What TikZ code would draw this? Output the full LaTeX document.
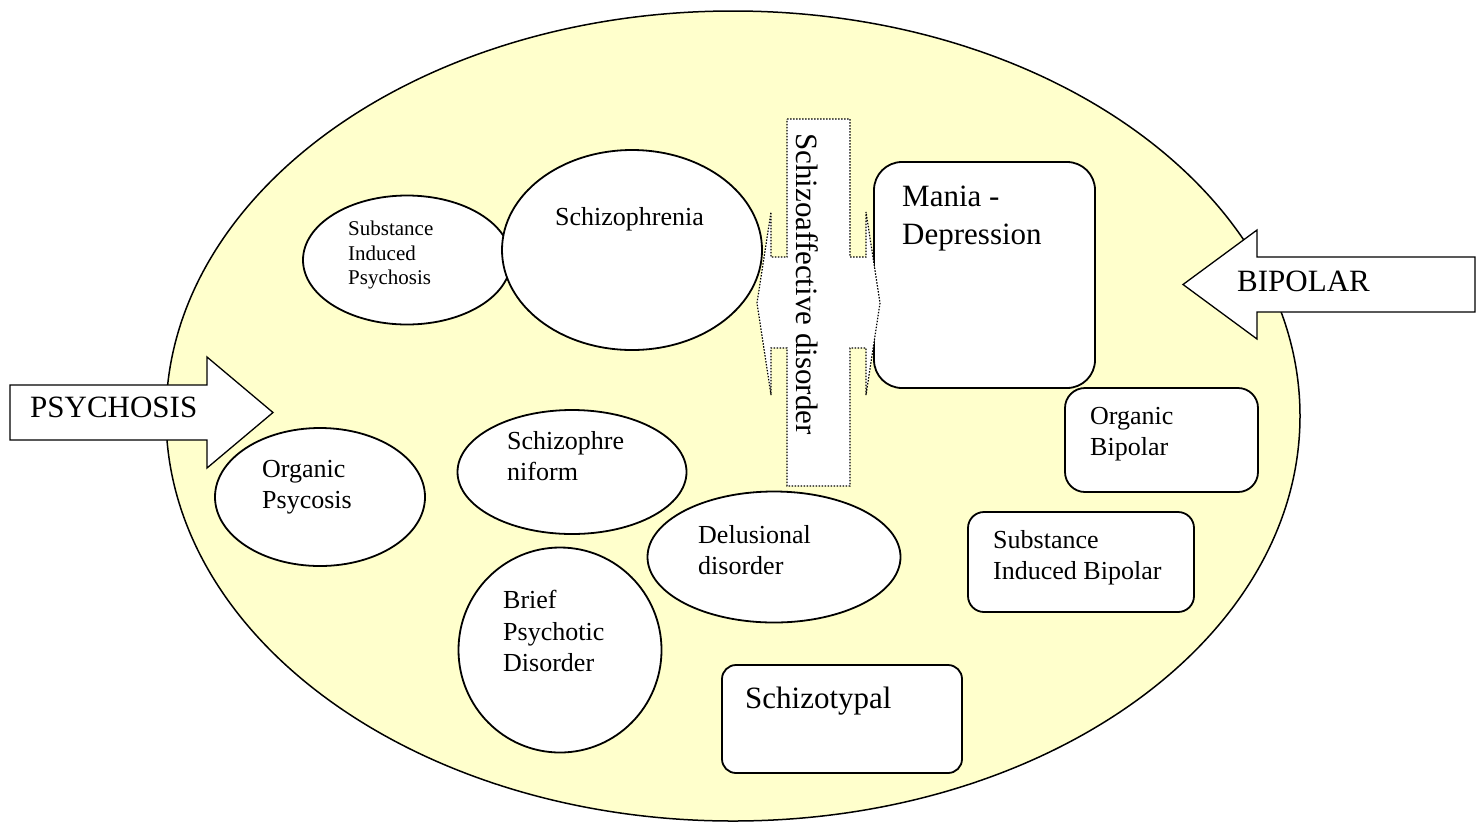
\documentclass[tikz,border=0pt]{standalone}
\usepackage{fontspec}
\setmainfont{Liberation Serif}
\usetikzlibrary{shapes.geometric}
\definecolor{cream}{HTML}{FFFFCC}

\begin{document}
\begin{tikzpicture}[x=1pt, y=-1pt,
    disease/.style={draw, ellipse, fill=white, line width=1.8pt, inner sep=0pt},
    roundbox/.style={draw, fill=white, line width=1.8pt, inner sep=0pt},
    bigarrow/.style={draw, fill=white, line width=1.3pt, line join=miter},
    txt/.style={anchor=north west, inner sep=0pt, align=left},
    smalltxt/.style={txt, font=\fontsize{21}{24.5}\selectfont},
    midtxt/.style={txt, font=\fontsize{26}{31.5}\selectfont},
    bigtxt/.style={txt, font=\fontsize{31}{38}\selectfont}]
  \useasboundingbox (0,0) rectangle (1482,823);

  % the whole field
  \node[draw, ellipse, fill=cream, line width=1.5pt, inner sep=0pt,
        minimum width=1134pt, minimum height=810pt] (field) at (733,416) {};

  % psychosis side
  \node[disease, minimum width=208pt, minimum height=129pt] (sip) at (407,260) {};
  \node[disease, minimum width=260pt, minimum height=200pt] (schizophrenia) at (632,250) {};
  \node[disease, minimum width=229pt, minimum height=124pt] (schizophreniform) at (572,472) {};
  \node[disease, minimum width=210pt, minimum height=138pt] (organicpsy) at (320,497) {};
  \node[disease, minimum width=253pt, minimum height=131pt] (delusional) at (774,557) {};
  \node[disease, minimum width=203pt, minimum height=205pt] (brief) at (560,650) {};
  \node[roundbox, rounded corners=14pt, minimum width=240pt, minimum height=108pt] (schizotypal) at (842,719) {};

  % bipolar side
  \node[roundbox, rounded corners=28pt, minimum width=221pt, minimum height=226pt] (mania) at (984.5,275) {};
  \node[roundbox, rounded corners=20pt, minimum width=193pt, minimum height=104pt] (organicbip) at (1161.5,440) {};
  \node[roundbox, rounded corners=16pt, minimum width=226pt, minimum height=100pt] (sib) at (1081,562) {};

  % schizoaffective cross
  \draw[fill=white, line width=1.2pt, dash pattern=on 1.5pt off 1.5pt]
    (787,119) -- (850,119) -- (850,257) -- (866,257) -- (866,212) -- (880,303)
    -- (866,395) -- (866,348) -- (850,348) -- (850,486) -- (787,486) -- (787,348)
    -- (771,348) -- (771,395) -- (757,303) -- (771,212) -- (771,257) -- (787,257) -- cycle;
  \node[bigtxt, anchor=center, rotate=-90] (schizoaffective) at (807,284) {Schizoaffective disorder};

  % entry arrows
  \draw[bigarrow] (10,385) -- (207,385) -- (207,357) -- (273,412.5) -- (207,468) -- (207,440) -- (10,440) -- cycle;
  \draw[bigarrow] (1475,257) -- (1257,257) -- (1257,230) -- (1183,284.5) -- (1257,339) -- (1257,312) -- (1475,312) -- cycle;
  \node[bigtxt] (psychosis) at (30,397) {PSYCHOSIS};
  \node[bigtxt] (bipolar) at (1237,271) {BIPOLAR};

  % labels
  \node[smalltxt] (siptext) at (348,221) {Substance\\Induced\\Psychosis};
  \node[midtxt] (schizophreniatext) at (555,207) {Schizophrenia};
  \node[midtxt] (schizophreniformtext) at (507,431) {Schizophre\\niform};
  \node[midtxt] (organicpsytext) at (262,460) {Organic\\Psycosis};
  \node[midtxt] (delusionaltext) at (698,525) {Delusional\\disorder};
  \node[midtxt] (brieftext) at (503,590) {Brief\\Psychotic\\Disorder};
  \node[bigtxt] (schizotypaltext) at (745,687) {Schizotypal};
  \node[bigtxt] (maniatext) at (902,186) {Mania -\\Depression};
  \node[midtxt] (organicbiptext) at (1090,407) {Organic\\Bipolar};
  \node[midtxt] (sibtext) at (993,530) {Substance\\Induced Bipolar};
\end{tikzpicture}
\end{document}
